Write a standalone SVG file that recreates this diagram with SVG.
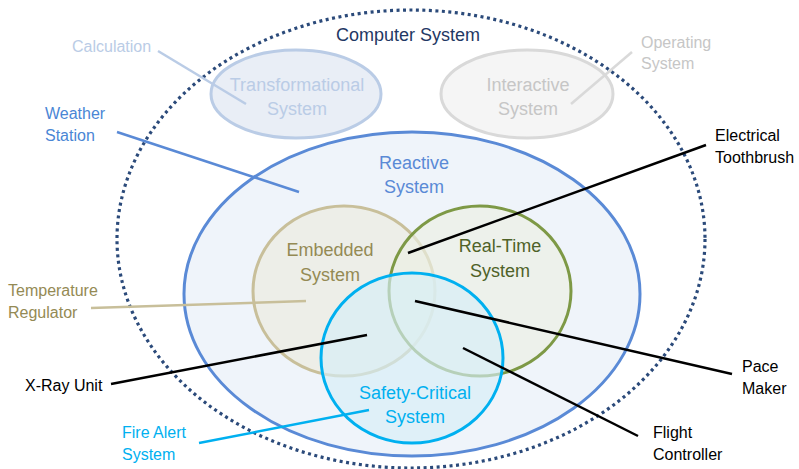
<svg xmlns="http://www.w3.org/2000/svg" width="799" height="469" viewBox="0 0 799 469">
<style>
text{font-family:"Liberation Sans",Arial,sans-serif;text-anchor:middle}
.in{font-size:18px}
.out{font-size:16px;text-anchor:start}
.ln{stroke-width:2.5;fill:none}
</style>
<rect width="799" height="469" fill="#ffffff"/>
<g id="computer-system">
<ellipse cx="411" cy="239" rx="294" ry="229" fill="none" stroke="#2B4A7A" stroke-width="3.2" stroke-dasharray="3 3.5"/>
<text class="in" x="408" y="41" fill="#1F3864">Computer System</text>
</g>
<g id="transformational">
<ellipse cx="296" cy="94" rx="85" ry="44" fill="#E9EEF6" stroke="#BACCE6" stroke-width="3"/>
<text class="in" x="297" y="91" fill="#BACCE6">Transformational</text>
<text class="in" x="297" y="115" fill="#BACCE6">System</text>
</g>
<g id="interactive">
<ellipse cx="527" cy="94" rx="86" ry="44" fill="#F5F5F5" stroke="#D9D9D9" stroke-width="3"/>
<text class="in" x="528" y="91" fill="#C6C6C6">Interactive</text>
<text class="in" x="528" y="115" fill="#C6C6C6">System</text>
</g>
<g id="reactive">
<ellipse cx="412" cy="294" rx="228" ry="162" fill="#EFF4FA" stroke="#5A8AD6" stroke-width="3"/>
<text class="in" x="414" y="169" fill="#5A8AD6">Reactive</text>
<text class="in" x="414" y="193" fill="#5A8AD6">System</text>
</g>
<g id="embedded">
<ellipse cx="344" cy="291" rx="91" ry="85" fill="#ECECE4" fill-opacity="0.8" stroke="#C8BF9A" stroke-width="3"/>
<text class="in" x="330" y="256" fill="#948A54">Embedded</text>
<text class="in" x="330" y="281" fill="#948A54">System</text>
</g>
<g id="real-time">
<ellipse cx="480" cy="291" rx="91" ry="85" fill="#EBF0E4" fill-opacity="0.65" stroke="#77933C" stroke-width="3" stroke-opacity="0.95"/>
<text class="in" x="500" y="252" fill="#4F6228">Real-Time</text>
<text class="in" x="500" y="277" fill="#4F6228">System</text>
</g>
<g id="safety-critical">
<ellipse cx="412" cy="358" rx="91" ry="85" fill="#D6EEF8" fill-opacity="0.65" stroke="#00B0F0" stroke-width="3"/>
<text class="in" x="415" y="399" fill="#00B0F0">Safety-Critical</text>
<text class="in" x="415" y="423" fill="#00B0F0">System</text>
</g>
<g id="connectors">
<line class="ln" x1="158" y1="51" x2="246" y2="104" stroke="#BACCE6"/>
<line class="ln" x1="632" y1="52" x2="571" y2="104" stroke="#D9D9D9"/>
<line class="ln" x1="117" y1="132" x2="299" y2="192" stroke="#5A8AD6"/>
<line class="ln" x1="91" y1="308" x2="306" y2="301" stroke="#C8BF9A"/>
<line class="ln" x1="111" y1="384" x2="367" y2="335" stroke="#000000"/>
<line class="ln" x1="199" y1="443" x2="369" y2="410" stroke="#00B0F0"/>
<line class="ln" x1="706" y1="145" x2="408" y2="253" stroke="#000000"/>
<line class="ln" x1="415" y1="301" x2="732" y2="374" stroke="#000000"/>
<line class="ln" x1="463" y1="348" x2="638" y2="436" stroke="#000000"/>
</g>
<g id="labels">
<text class="out" x="72" y="52" fill="#BACCE6">Calculation</text>
<text class="out" x="641" y="48" fill="#C6C6C6">Operating</text>
<text class="out" x="641" y="69" fill="#C6C6C6">System</text>
<text class="out" x="45" y="119" fill="#4A86D5">Weather</text>
<text class="out" x="45" y="141" fill="#4A86D5">Station</text>
<text class="out" x="8" y="296" fill="#948A54">Temperature</text>
<text class="out" x="8" y="318" fill="#948A54">Regulator</text>
<text class="out" x="25" y="391" fill="#000000">X-Ray Unit</text>
<text class="out" x="122" y="438" fill="#00B0F0">Fire Alert</text>
<text class="out" x="122" y="460" fill="#00B0F0">System</text>
<text class="out" x="715" y="141" fill="#000000">Electrical</text>
<text class="out" x="715" y="163" fill="#000000">Toothbrush</text>
<text class="out" x="742" y="372" fill="#000000">Pace</text>
<text class="out" x="742" y="394" fill="#000000">Maker</text>
<text class="out" x="653" y="438" fill="#000000">Flight</text>
<text class="out" x="653" y="460" fill="#000000">Controller</text>
</g>
</svg>
